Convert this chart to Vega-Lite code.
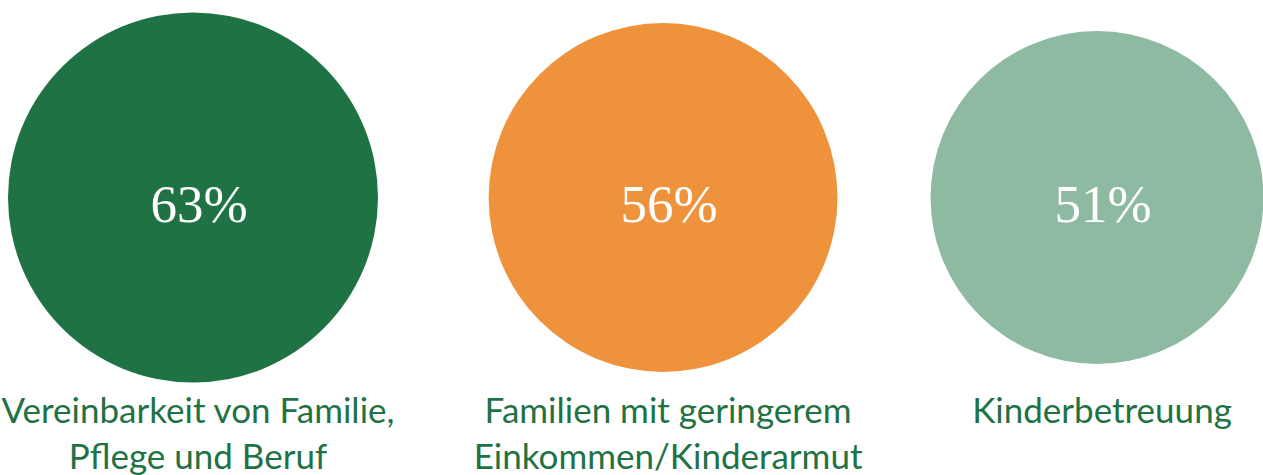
{
  "$schema": "https://vega.github.io/schema/vega-lite/v6.json",
  "width": 1263,
  "height": 395,
  "padding": {"left": 0, "top": 0, "right": 0, "bottom": 80},
  "autosize": {"type": "none"},
  "background": "white",
  "config": {"view": {"stroke": null}},
  "data": {"values": [
    {"item": "Vereinbarkeit", "value": 0.63, "label": "Vereinbarkeit von Familie,\nPflege und Beruf"},
    {"item": "Familien", "value": 0.56, "label": "Familien mit geringerem\nEinkommen/Kinderarmut"},
    {"item": "Kinderbetreuung", "value": 0.51, "label": "Kinderbetreuung"}
  ]},
  "encoding": {
    "x": {"field": "item", "type": "nominal", "axis": null,
          "scale": {"type": "point", "range": [193, 1097], "padding": 0,
                    "domain": ["Vereinbarkeit", "g1", "g2", "g3", "g4", "g5", "g6", "g7", "g8", "g9", "g10", "g11", "g12", "Familien", "g14", "g15", "g16", "g17", "g18", "g19", "g20", "g21", "g22", "g23", "g24", "Kinderbetreuung"]}}
  },
  "layer": [
    {
      "mark": {"type": "circle", "opacity": 1},
      "encoding": {
        "size": {"field": "value", "type": "quantitative", "legend": null,
                 "scale": {"type": "linear", "domain": [0, 0.63], "range": [0, 136900], "zero": true}},
        "color": {"field": "item", "type": "nominal", "legend": null, "sort": null,
                  "scale": {"domain": ["Vereinbarkeit", "Familien", "Kinderbetreuung"], "range": ["#1f7244", "#ef923c", "#8fbaa2"]}}
      }
    },
    {
      "mark": {"type": "text", "font": "Liberation Serif", "fontSize": 53, "color": "white", "baseline": "alphabetic", "align": "center", "dy": 24, "dx": 6},
      "encoding": {"text": {"field": "value", "type": "quantitative", "format": ".0%"}}
    },
    {
      "mark": {"type": "text", "font": "Lato", "fontSize": 35, "color": "#1f7244", "baseline": "alphabetic", "align": "center", "dy": 225, "dx": 5, "lineBreak": "\n", "lineHeight": 46},
      "encoding": {"text": {"field": "label", "type": "nominal"}}
    }
  ]
}
